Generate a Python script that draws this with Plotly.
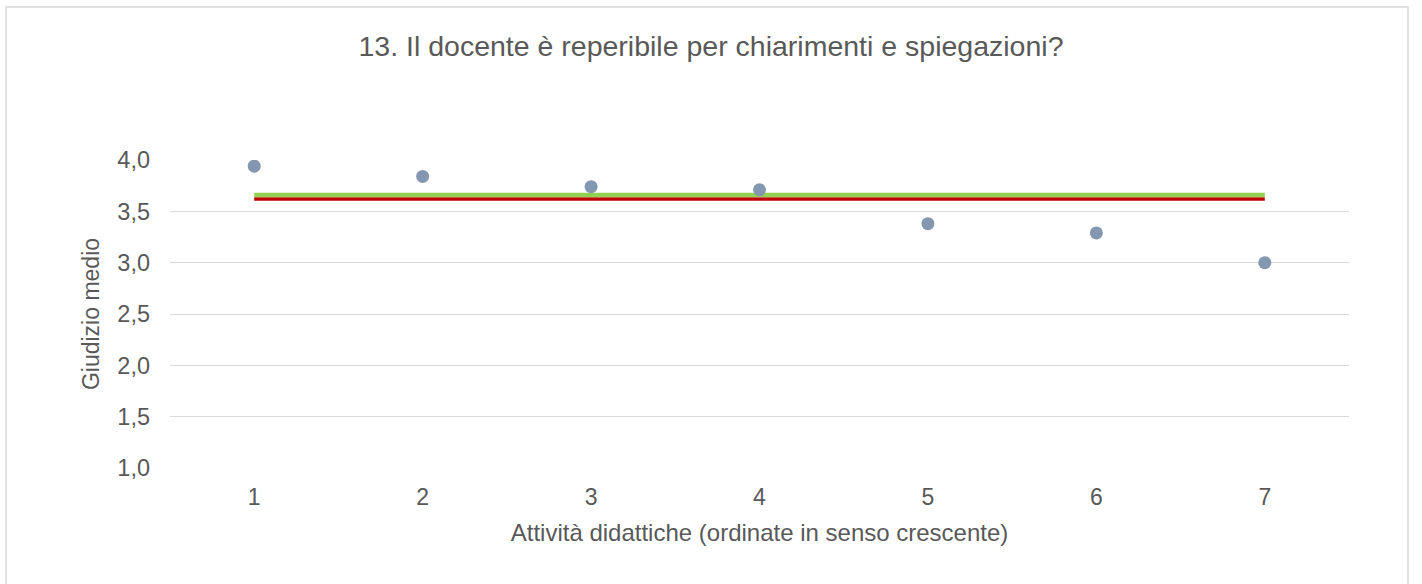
import plotly.graph_objects as go

# Data
attivita = [1, 2, 3, 4, 5, 6, 7]
giudizio_medio = [3.94, 3.84, 3.74, 3.71, 3.38, 3.29, 3.00]
media_verde = [3.66, 3.66]
media_rossa = [3.62, 3.62]
estremi = [1, 7]
y_ticks = [1.0, 1.5, 2.0, 2.5, 3.0, 3.5, 4.0]

TEXT = "#595959"
FONT = "Liberation Sans, Arial, sans-serif"

fig = go.Figure()
fig.add_trace(go.Scatter(x=estremi, y=media_rossa, mode="lines",
                         line=dict(color="#c00000", width=3.5),
                         hoverinfo="skip", showlegend=False))
fig.add_trace(go.Scatter(x=estremi, y=media_verde, mode="lines",
                         line=dict(color="#92d050", width=4.5),
                         hoverinfo="skip", showlegend=False))
fig.add_trace(go.Scatter(x=attivita, y=giudizio_medio, mode="markers",
                         marker=dict(color="#8497b0", size=13, line=dict(width=0)),
                         showlegend=False))

W, H = 1422, 584
L, R, T, B = 170, 73, 160, 116
pw, ph = W - L - R, H - T - B

def px2paper_x(px):
    return (px - L) / pw

def px2paper_y(py):
    return (H - B - py) / ph

fig.update_layout(
    width=W, height=H,
    margin=dict(l=L, r=R, t=T, b=B),
    paper_bgcolor="white", plot_bgcolor="white",
    separators=",.",
    font=dict(family=FONT, color=TEXT, size=23),
    title=dict(text="13. Il docente è reperibile per chiarimenti e spiegazioni?",
               x=0.5, xanchor="center", xref="container",
               y=1 - 46 / H, yanchor="middle", yref="container",
               font=dict(size=28.5, color=TEXT, family=FONT)),
    xaxis=dict(range=[0.5, 7.5], tickvals=attivita, ticktext=[str(a) for a in attivita],
               showgrid=False, zeroline=False, showline=False, ticks="",
               ticklabelstandoff=13,
               tickfont=dict(size=23, color=TEXT),
               title=dict(text="Attività didattiche (ordinate in senso crescente)",
                          font=dict(size=24, color=TEXT), standoff=15)),
    yaxis=dict(range=[1, 4], tickvals=y_ticks, tickformat=".1f",
               showgrid=True, gridcolor="#d9d9d9", gridwidth=1.3,
               zeroline=False, showline=False, ticks="",
               ticklabelstandoff=19,
               tickfont=dict(size=23.5, color=TEXT),
               title=dict(text="Giudizio medio", font=dict(size=23, color=TEXT), standoff=11)),
    shapes=[dict(type="rect", xref="paper", yref="paper",
                 x0=px2paper_x(6), x1=px2paper_x(1408),
                 y0=px2paper_y(620), y1=px2paper_y(7),
                 line=dict(color="#d9d9d9", width=1.5), fillcolor="rgba(0,0,0,0)",
                 layer="below")],
    hovermode=False,
)

fig.write_html("out.html", config=dict(displayModeBar=False),
               post_script="document.body.style.margin='0';document.body.style.overflow='hidden';")
